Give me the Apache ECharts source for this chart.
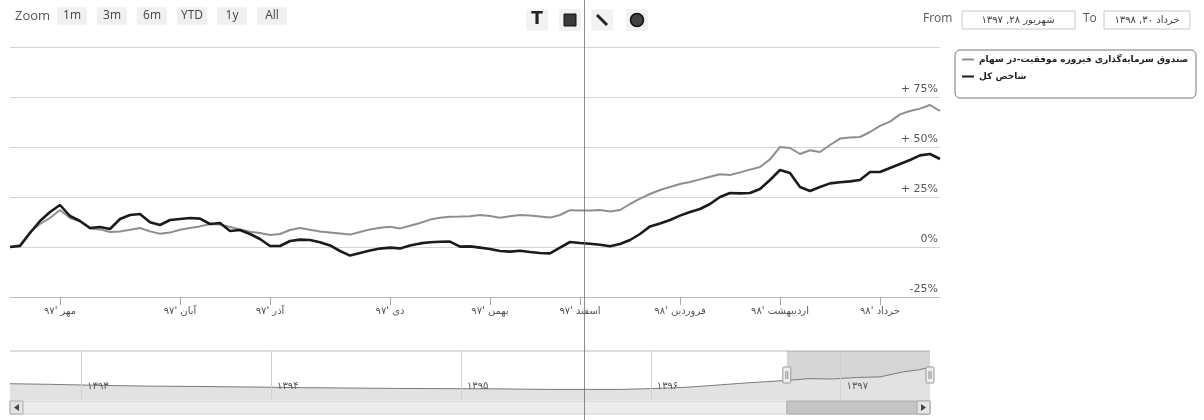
<!DOCTYPE html>
<html><head><meta charset="utf-8">
<script src="https://cdn.jsdelivr.net/npm/echarts@6/dist/echarts.min.js"></script>
<style>html,body{margin:0;padding:0;background:#fff}#c{width:1204px;height:420px}</style>
</head><body><div id="c"></div>
<script>
// ---------- data ----------
const fundName = 'صندوق سرمایه‌گذاری فیروزه موفقیت-در سهام';
const indexName = 'شاخص کل';
const monthTickLabels = ["مهر '۹۷","آبان '۹۷","آذر '۹۷","دی '۹۷","بهمن '۹۷","اسفند '۹۷","فروردین '۹۸","اردیبهشت '۹۸","خرداد '۹۸"];
const monthTickIndex = [5,17,26,38,48,57,67,77,87];
const fundValues = [0,1,7.5,11.5,14.5,18.5,14.5,12.8,9.3,8.8, 7.5,7.8,8.6,9.5,7.8,6.6,7.2,8.6,9.5,10.3,
  11.5,11.2,10,8.8,7.6,7,6,6.5,8.5,9.5, 8.6,7.7,7.2,6.7,6.2,7.5,8.8,9.6,10.1,9.3,
  10.6,12,13.7,14.6,15.1,15.2,15.4,16,15.5,14.6, 15.4,16,15.8,15.3,14.7,16,18.4,18.3,18.2,18.5,
  17.8,18.5,21.5,24.2,26.5,28.5,30,31.5,32.5,33.8, 35.1,36.4,36,37.3,38.7,40,43.8,50,49.5,46.5,
  48.4,47.5,51,54.2,54.8,55,57.5,60.6,62.7,66.3, 68,69.2,71,68];
const indexValues = [0,0.5,7,13,17.5,21,15.5,13,9.5,10, 9,14,16,16.5,12.4,11,13.5,14,14.5,14.2,
  11.5,12,8,8.5,6.5,4,0.5,0.5,3,3.7, 3.5,2.4,0.8,-2,-4.3,-3,-1.8,-0.8,-0.3,-0.7,
  0.8,1.8,2.4,2.6,2.7,0.2,0.3,-0.3,-1,-2, -2.3,-1.9,-2.5,-3,-3.2,-0.3,2.5,2,1.6,1.1,
  0.4,1.5,3.5,6.5,10.3,11.8,13.5,15.7,17.5,19, 21.5,25,27,26.8,27,29,33.5,38.5,37,30,
  28,30,31.8,32.4,32.8,33.5,37.5,37.5,39.5,41.5, 43.5,45.8,46.5,44];
const yTickValues = [-25,0,25,50,75,100];
// navigator: months counted from Jan 2014
const navMonths = [7.5,10,13,16,19.5,23,26,29,32,35,38,41.6,44,46,48,50,51,52.5,54.2,56.6,58,59.5,61,62.5,64,65,65.65];
const navValues = [83,80,75,71,69,66,63,61,59,58,57,54,54,54,58,64,69,78,88,100,109,107,115,118,144,155,168];
const navYearTicks = [12,24,36,48,60];
const navYearLabels = ['۱۳۹۳','۱۳۹۴','۱۳۹۵','۱۳۹۶','۱۳۹۷'];
const selectionRange = [56.6, 65.65];
const rangeButtons = ['1m','3m','6m','YTD','1y','All'];
const fromDate = 'شهریور ۲۸, ۱۳۹۷';
const toDate = 'خرداد ۳۰, ۱۳۹۸';

// ---------- chart ----------
const categories = fundValues.map((v, i) => String(i));
const isTick = (i) => monthTickIndex.indexOf(i) >= 0;
const FONT = '"DejaVu Sans", "Noto Sans", sans-serif';
const chart = echarts.init(document.getElementById('c'));

chart.setOption({
  animation: false,
  grid: [
    {left: 10, right: 264, top: 47, bottom: 123},
    {left: 10, right: 274, top: 351, bottom: 20}
  ],
  legend: {
    data: [fundName, indexName], orient: 'vertical', left: 962, top: 55,
    itemGap: 8, itemWidth: 12, itemHeight: 2, icon: 'rect', padding: 0,
    textStyle: {fontSize: 9, fontWeight: 'bold', color: '#222', fontFamily: FONT}
  },
  xAxis: [
    {type: 'category', gridIndex: 0, data: categories, boundaryGap: false,
     axisLine: {onZero: false, lineStyle: {color: '#bdbdbd'}},
     axisTick: {interval: isTick, length: 8, lineStyle: {color: '#aaa'}},
     axisLabel: {interval: isTick, formatter: (v, i) => monthTickLabels[monthTickIndex.indexOf(i)] || '',
       color: '#555', fontSize: 10, margin: 9, fontFamily: FONT},
     splitLine: {show: false}},
    {type: 'value', gridIndex: 1, min: navMonths[0], max: navMonths[navMonths.length - 1], z: 5,
     axisLine: {show: false}, axisTick: {show: false}, splitLine: {show: false},
     axisLabel: {customValues: navYearTicks, formatter: v => navYearLabels[navYearTicks.indexOf(v)] || '',
       inside: true, align: 'left', margin: 9, padding: [0, 0, 0, 6], color: '#555', fontSize: 10, fontFamily: FONT}}
  ],
  yAxis: [
    {type: 'value', gridIndex: 0, position: 'right', min: yTickValues[0], max: yTickValues[yTickValues.length - 1], interval: 25,
     axisLine: {show: false}, axisTick: {show: false},
     splitLine: {lineStyle: {color: '#d4d4d4'}},
     axisLabel: {inside: true, verticalAlign: 'bottom', margin: 2, padding: [0, 0, 2, 0],
       formatter: v => v === 100 ? '' : (v > 0 ? '+ ' : '') + v + '%', color: '#555', fontSize: 11, fontFamily: FONT}},
    {type: 'value', gridIndex: 1, min: 0, max: 250, show: false}
  ],
  series: [
    {name: fundName, type: 'line', xAxisIndex: 0, yAxisIndex: 0, data: fundValues, symbol: 'none',
     color: '#8e8e8e', lineStyle: {width: 2, color: '#8e8e8e'}},
    {name: indexName, type: 'line', xAxisIndex: 0, yAxisIndex: 0, data: indexValues, symbol: 'none',
     color: '#1b1b1b', lineStyle: {width: 2.6, color: '#1b1b1b'}},
    {name: 'navigator', type: 'line', xAxisIndex: 1, yAxisIndex: 1, silent: true, symbol: 'none',
     data: navMonths.map((m, i) => [m, navValues[i]]),
     lineStyle: {width: 1, color: '#7a7a7a'}, areaStyle: {color: '#e2e2e2', opacity: 1},
     markLine: {silent: true, symbol: 'none', label: {show: false},
       lineStyle: {color: '#cfcfcf', type: 'solid', width: 1},
       data: navYearTicks.map(t => ({xAxis: t}))},
     markArea: {silent: true, itemStyle: {color: 'rgba(120,120,120,0.30)'},
       data: [[{xAxis: selectionRange[0]}, {xAxis: selectionRange[1]}]]}}
  ]
});

// ---------- decorations ----------
const xs = chart.convertToPixel({xAxisIndex: 1}, selectionRange[0]);
const xe = chart.convertToPixel({xAxisIndex: 1}, selectionRange[1]);
const G = [];
G.push({type: 'text', x: 15, y: 16, style: {text: 'Zoom', fill: '#555', font: '13px "Open Sans", sans-serif', verticalAlign: 'middle'}});
rangeButtons.forEach((t, i) => {
  const cx = 72 + 40 * i;
  G.push({type: 'rect', shape: {x: cx - 15, y: 7, width: 30, height: 18, r: 2}, style: {fill: '#f0f0f0'}});
  G.push({type: 'text', x: cx, y: 16, style: {text: t, fill: '#444', font: '12px "Open Sans", sans-serif', align: 'center', verticalAlign: 'middle'}});
});
// annotation toolbar
[537, 570, 602, 637].forEach(cx => {
  G.push({type: 'rect', shape: {x: cx - 11, y: 9, width: 22, height: 22, r: 2}, style: {fill: '#f2f2f2'}});
});
G.push({type: 'text', x: 537, y: 20, style: {text: 'T', fill: '#222', font: 'bold 17px "DejaVu Sans", sans-serif', align: 'center', verticalAlign: 'middle'}});
G.push({type: 'rect', shape: {x: 564, y: 14, width: 12, height: 12}, style: {fill: '#3a3a3a', stroke: '#111', lineWidth: 1}});
G.push({type: 'line', shape: {x1: 597, y1: 15, x2: 607, y2: 25}, style: {stroke: '#222', lineWidth: 3}});
G.push({type: 'circle', shape: {cx: 637, cy: 20, r: 6.5}, style: {fill: '#444', stroke: '#111', lineWidth: 1.5}});
// From / To inputs
G.push({type: 'text', x: 923, y: 19, style: {text: 'From', fill: '#555', font: '12px "Open Sans", sans-serif', verticalAlign: 'middle'}});
G.push({type: 'rect', shape: {x: 962, y: 11, width: 113, height: 18}, style: {fill: '#fff', stroke: '#c8c8c8'}});
G.push({type: 'text', x: 1018, y: 20, style: {text: fromDate, fill: '#444', font: '10px "DejaVu Sans", sans-serif', align: 'center', verticalAlign: 'middle'}});
G.push({type: 'text', x: 1083, y: 19, style: {text: 'To', fill: '#555', font: '12px "Open Sans", sans-serif', verticalAlign: 'middle'}});
G.push({type: 'rect', shape: {x: 1104, y: 11, width: 86, height: 18}, style: {fill: '#fff', stroke: '#c8c8c8'}});
G.push({type: 'text', x: 1147, y: 20, style: {text: toDate, fill: '#444', font: '10px "DejaVu Sans", sans-serif', align: 'center', verticalAlign: 'middle'}});
// legend frame
G.push({type: 'rect', shape: {x: 955, y: 50, width: 241, height: 48, r: 5}, style: {fill: 'none', stroke: '#777', lineWidth: 1}, z: -1});
// navigator frame and handles
G.push({type: 'line', shape: {x1: 10, y1: 351, x2: 930, y2: 351}, style: {stroke: '#bbb', lineWidth: 1}});
[xs, xe].forEach(x => {
  G.push({type: 'rect', shape: {x: x - 4, y: 367, width: 8, height: 16, r: 1}, style: {fill: '#eeeeee', stroke: '#999', lineWidth: 1}, z: 10});
  G.push({type: 'line', shape: {x1: x - 1, y1: 371, x2: x - 1, y2: 379}, style: {stroke: '#888'}, z: 11});
  G.push({type: 'line', shape: {x1: x + 1, y1: 371, x2: x + 1, y2: 379}, style: {stroke: '#888'}, z: 11});
});
// scrollbar
G.push({type: 'rect', shape: {x: 10, y: 401, width: 920, height: 13}, style: {fill: '#ececec', stroke: '#cfcfcf'}});
G.push({type: 'rect', shape: {x: xs, y: 401, width: xe - xs, height: 13}, style: {fill: '#c4c4c4', stroke: '#aaa'}});
G.push({type: 'rect', shape: {x: 10, y: 401, width: 13, height: 13}, style: {fill: '#e4e4e4', stroke: '#aaa'}});
G.push({type: 'polygon', shape: {points: [[19, 404], [19, 411], [14, 407.5]]}, style: {fill: '#444'}});
G.push({type: 'rect', shape: {x: 917, y: 401, width: 13, height: 13}, style: {fill: '#e4e4e4', stroke: '#aaa'}});
G.push({type: 'polygon', shape: {points: [[921, 404], [921, 411], [926, 407.5]]}, style: {fill: '#444'}});
// fold line of the scanned page
G.push({type: 'line', shape: {x1: 584.5, y1: 0, x2: 584.5, y2: 420}, style: {stroke: '#6f6f6f', lineWidth: 1, opacity: 0.8}, z: 20});
chart.setOption({graphic: G});
</script>
</body></html>
